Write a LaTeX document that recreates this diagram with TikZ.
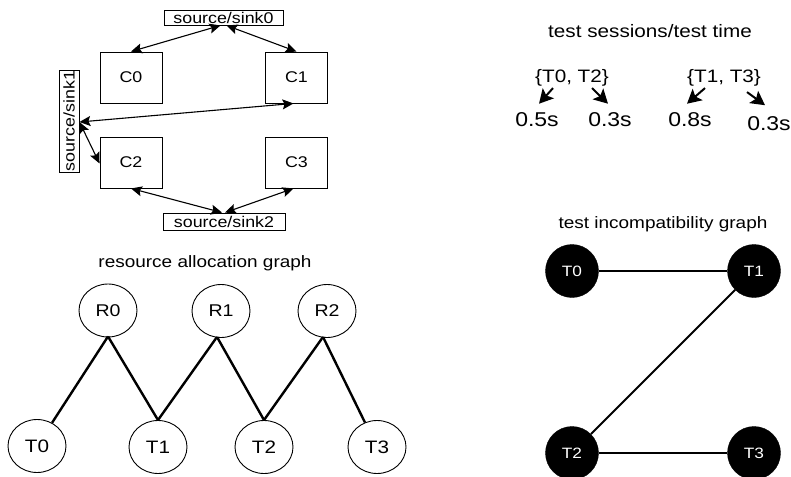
\documentclass[tikz,border=0pt]{standalone}
\usepackage{fontspec}
\setmainfont{Liberation Sans}[FakeStretch=1.15]
\usetikzlibrary{shapes.geometric,arrows.meta,calc}
\begin{document}
\begin{tikzpicture}[x=1pt,y=-1pt,
  box/.style={draw,line width=0.9pt,inner sep=0pt,font=\fontsize{15.5}{18}\selectfont},
  core/.style={box,minimum width=62pt,minimum height=51pt},
  ssbox/.style={box,minimum height=16pt},
  dbl/.style={line width=1.1pt,{Stealth[length=11pt,width=10pt,inset=2pt]}-{Stealth[length=11pt,width=10pt,inset=2pt]}},
  title/.style={inner sep=0pt,font=\fontsize{16.5}{19}\selectfont},
  sess/.style={inner sep=0pt,font=\fontsize{18}{20}\selectfont},
  num/.style={inner sep=0pt,font=\fontsize{20}{22}\selectfont},
  sarrow/.style={line width=2pt,-{Stealth[length=14pt,width=15pt,inset=3pt]}},
  res/.style={draw,ellipse,line width=0.9pt,minimum width=58pt,minimum height=53pt,inner sep=0pt,font=\fontsize{17}{19}\selectfont},
  task/.style={res,font=\fontsize{18}{20}\selectfont},
  edge/.style={line width=2.4pt},
  bnode/.style={circle,fill=black,draw=black,minimum size=53pt,inner sep=0pt,text=white,font=\fontsize{15}{17}\selectfont},
  bedge/.style={line width=1.8pt}
]
\useasboundingbox (0,0) rectangle (791,476);
\fill[white] (0,0) rectangle (791,476);

% ---- top left: cores and source/sinks
\node[core] (C0) at (131,77.5) {C0};
\node[core] (C1) at (296.5,77.5) {C1};
\node[core] (C2) at (131,162.5) {C2};
\node[core] (C3) at (296.5,162.5) {C3};
\node[ssbox,minimum width=119pt,minimum height=15pt] (ss0) at (223.5,17.5) {source/sink0};
\node[ssbox,minimum width=122pt,minimum height=17pt] (ss2) at (224,221.5) {source/sink2};
\node[ssbox,minimum width=102pt,minimum height=20pt,rotate=90] (ss1) at (69,121) {source/sink1};

\draw[dbl] ([xshift=-3pt]ss0.south) -- (C0.north);
\draw[dbl] ([xshift=3pt]ss0.south) -- (C1.north);
\draw[dbl] ([yshift=-1pt]ss1.south) -- ([xshift=-3pt]C1.south);
\draw[dbl] ([yshift=-1pt]ss1.south) -- ([yshift=-1pt]C2.west);
\draw[dbl] ([xshift=-2pt]ss2.north) -- (C2.south);
\draw[dbl] ([xshift=1pt]ss2.north) -- ([xshift=-3pt]C3.south);

% ---- top right: test sessions
\node[sess] (ttl1) at (650,31) {test sessions/test time};
\node[sess] (s1) at (572,77.5) {\{T0, T2\}};
\node[sess] (s2) at (724,77.5) {\{T1, T3\}};
\node[num] (n1) at (537,120) {0.5s};
\node[num] (n2) at (610,120) {0.3s};
\node[num] (n3) at (690,120) {0.8s};
\node[num] (n4) at (769,123.5) {0.3s};
\draw[sarrow] ($(s1.south)+(-19,2)$) -- ($(n1.north)+(2,-9)$);
\draw[sarrow] ($(s1.south)+(20,2)$) -- ($(n2.north)+(-2,-9)$);
\draw[sarrow] ($(s2.south)+(-19,2)$) -- ($(n3.north)+(-3,-9)$);
\draw[sarrow] ($(s2.south)+(23,6)$) -- ($(n4.north)+(-4,-11)$);

% ---- bottom left: resource allocation graph
\node[title] (ttl2) at (205,263) {resource allocation graph};
\node[res] (R0) at (108,310.5) {R0};
\node[res] (R1) at (221,311) {R1};
\node[res] (R2) at (327,311) {R2};
\node[task] (T0) at (37,446) {T0};
\node[task] (T1) at (158,447) {T1};
\node[task] (T2) at (264,447) {T2};
\node[task] (T3) at (377,447) {T3};
\draw[edge] ([yshift=1pt]R0.south) -- (T0);
\draw[edge] ([yshift=1pt]R0.south) -- (T1.north);
\draw[edge] ([yshift=1pt,xshift=-4pt]R1.south) -- (T1.north);
\draw[edge] ([yshift=1pt,xshift=-4pt]R1.south) -- (T2.north);
\draw[edge] ([yshift=1pt,xshift=-4pt]R2.south) -- (T2.north);
\draw[edge] ([yshift=1pt,xshift=-4pt]R2.south) -- (T3);

% ---- bottom right: test incompatibility graph
\node[title] (ttl3) at (663,224) {test incompatibility graph};
\node[bnode] (B0) at (572,271) {T0};
\node[bnode] (B1) at (754,271) {T1};
\node[bnode] (B2) at (572,453) {T2};
\node[bnode] (B3) at (754,453) {T3};
\draw[bedge] (B0) -- (B1);
\draw[bedge] (B1) -- (B2);
\draw[bedge] (B2) -- (B3);
\end{tikzpicture}
\end{document}
